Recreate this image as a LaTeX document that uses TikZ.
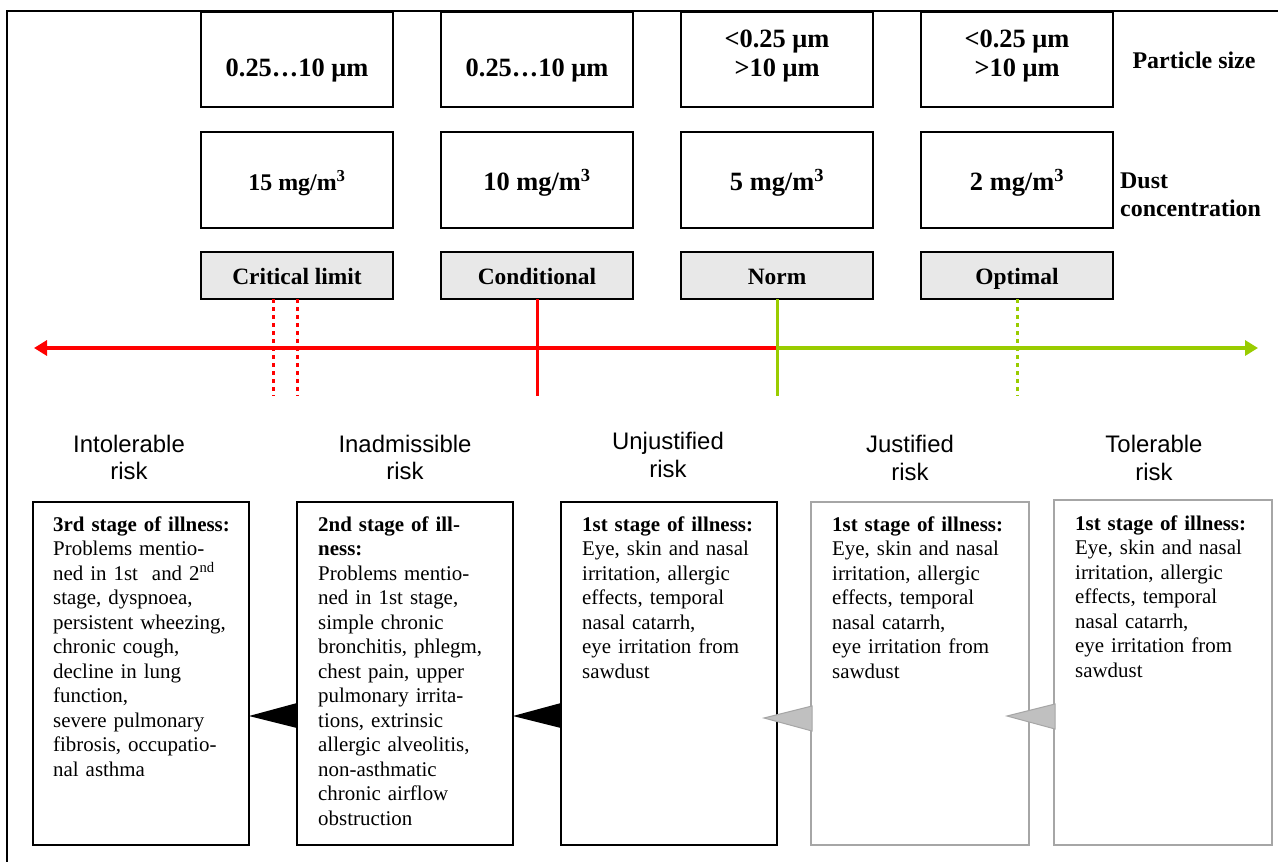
\documentclass[tikz,border=0pt]{standalone}
\usepackage{fontspec}
\setmainfont{Liberation Serif}
\newfontfamily\arialfont{Liberation Sans}
\usetikzlibrary{arrows.meta,calc}
\definecolor{axisred}{HTML}{FF0000}
\definecolor{axisgreen}{HTML}{99CC00}
\definecolor{labelgray}{HTML}{E8E8E8}
\definecolor{softgray}{HTML}{A6A6A6}
\definecolor{arrowgray}{HTML}{C0C0C0}
\begin{document}
\begin{tikzpicture}[x=1bp,y=-1bp,
  topbox/.style={draw=black,line width=1.5bp,minimum width=192bp,minimum height=95bp,inner sep=0pt,outer sep=0pt},
  midbox/.style={topbox,minimum height=96bp},
  labbox/.style={draw=black,fill=labelgray,line width=1.5bp,minimum width=192bp,minimum height=47bp,inner sep=0pt,outer sep=0pt,text height=18bp,text depth=0bp,font=\fontsize{23.5}{26}\selectfont\bfseries},
  bigtext/.style={font=\fontsize{26.5}{29}\selectfont\bfseries,align=center,inner sep=0pt},
  sidetext/.style={font=\fontsize{24}{28}\selectfont\bfseries,align=left,inner sep=0pt},
  risktext/.style={font=\arialfont\fontsize{24}{27.5}\selectfont,align=center,inner sep=0pt},
  stagebox/.style={draw=black,line width=2bp,minimum width=216bp,minimum height=343bp,inner sep=0pt,outer sep=0pt},
  softbox/.style={stagebox,draw=softgray,minimum width=218bp},
  stagetext/.style={font=\fontsize{21}{24.6}\selectfont,text width=210bp,align=left,inner sep=0pt,anchor=base west},
  redaxis/.style={draw=axisred,line width=3.5bp},
  greenaxis/.style={draw=axisgreen,line width=3.5bp},
  reddots/.style={draw=axisred,line width=3bp,dash pattern=on 4bp off 4bp},
  greendots/.style={draw=axisgreen,line width=3bp,dash pattern=on 4bp off 4bp},
  blacktri/.style={fill=black},
  graytri/.style={fill=arrowgray,draw=softgray,line width=1bp},
  axistip/.style={-{Triangle[length=13bp,width=15bp]}}
]
\useasboundingbox (0,0) rectangle (1278,862);
\fill[white] (0,0) rectangle (1278,862);
% outer frame
\draw[line width=2bp] (7,870) -- (7,11) -- (1285,11);

% particle size row
\node[topbox] (p1) at (297,59.5) {};
\node[topbox] (p2) at (537,59.5) {};
\node[topbox] (p3) at (777,59.5) {};
\node[topbox] (p4) at (1017,59.5) {};
\node[bigtext] (p1t) at (297,71) {0.25…10 μm};
\node[bigtext] (p2t) at (537,71) {0.25…10 μm};
\node[bigtext] (p3t) at (777,56) {<0.25 μm\\>10 μm};
\node[bigtext] (p4t) at (1017,56) {<0.25 μm\\>10 μm};
\node[sidetext] (psize) at (1194,60) {Particle size};

% concentration row
\node[midbox] (c1) at (297,180) {};
\node[midbox] (c2) at (537,180) {};
\node[midbox] (c3) at (777,180) {};
\node[midbox] (c4) at (1017,180) {};
\node[bigtext,font=\fontsize{24}{28}\selectfont\bfseries] (c1t) at (297,183) {15 mg/m\textsuperscript{3}};
\node[bigtext] (c2t) at (537,183) {10 mg/m\textsuperscript{3}};
\node[bigtext] (c3t) at (777,183) {5 mg/m\textsuperscript{3}};
\node[bigtext] (c4t) at (1017,183) {2 mg/m\textsuperscript{3}};
\node[sidetext,anchor=west] (dconc) at (1120,195) {Dust\\concentration};

% limit labels
\node[labbox] (l1) at (297,275.5) {Critical limit};
\node[labbox] (l2) at (537,275.5) {Conditional};
\node[labbox] (l3) at (777,275.5) {Norm};
\node[labbox] (l4) at (1017,275.5) {Optimal};

% axis
\coordinate (axL) at (34,348);
\coordinate (axM) at (777,348);
\coordinate (axR) at (1258,348);
\draw[redaxis,axistip] (axM) -- (axL);
\draw[greenaxis,axistip] (axM) -- (axR);

% vertical markers
\coordinate (v1a) at (273,396);
\coordinate (v1b) at (297,396);
\coordinate (v2) at (537,396);
\coordinate (v3) at (777,396);
\coordinate (v4) at (1017,396);
\draw[reddots] ($(l1.south)+(-24,0)$) -- (v1a);
\draw[reddots] (l1.south) -- (v1b);
\draw[redaxis,line width=3bp] (l2.south) -- (v2);
\draw[greenaxis,line width=3bp] (l3.south) -- (v3);
\draw[greendots] (l4.south) -- (v4);

% risk labels
\node[risktext] (r1) at (129,457.5) {Intolerable\\risk};
\node[risktext] (r2) at (405,457.5) {Inadmissible\\risk};
\node[risktext] (r3) at (668,455) {Unjustified\\risk};
\node[risktext] (r4) at (910,458) {Justified\\risk};
\node[risktext] (r5) at (1154,458) {Tolerable\\risk};

% stage boxes
\node[stagebox] (sA) at (141,673.5) {};
\node[stagebox] (sB) at (405,673.5) {};
\node[stagebox] (sC) at (669,673.5) {};
\node[softbox] (sD) at (920,673.5) {};
\node[softbox,minimum height=345bp] (sE) at (1163,672.5) {};

% triangles between stage boxes
\fill[blacktri] (sB.west |- 0,703) -- (sB.west |- 0,728) -- (sA.east |- 0,716) -- cycle;
\fill[blacktri] (sC.west |- 0,703) -- (sC.west |- 0,728) -- (sB.east |- 0,716) -- cycle;
\filldraw[graytri] (812,706) -- (812,731) -- (764,718) -- cycle;
\filldraw[graytri] (1055,704) -- (1055,729) -- (1007,716) -- cycle;

\node[stagetext] (tA) at (53,531) {\textbf{3rd stage of illness:}\\
Problems mentio-\\
ned in 1st~ and 2\textsuperscript{nd}\\
stage, dyspnoea,\\
persistent wheezing,\\
chronic cough,\\
decline in lung\\
function,\\
severe pulmonary\\
fibrosis, occupatio-\\
nal asthma};
\node[stagetext] (tB) at (318,531) {\textbf{2nd stage of ill-}\\
\textbf{ness:}\\
Problems mentio-\\
ned in 1st stage,\\
simple chronic\\
bronchitis, phlegm,\\
chest pain, upper\\
pulmonary irrita-\\
tions, extrinsic\\
allergic alveolitis,\\
non-asthmatic\\
chronic airflow\\
obstruction};
\node[stagetext] (tC) at (582,531) {\textbf{1st stage of illness:}\\
Eye, skin and nasal\\
irritation, allergic\\
effects, temporal\\
nasal catarrh,\\
eye irritation from\\
sawdust};
\node[stagetext] (tD) at (832,531) {\textbf{1st stage of illness:}\\
Eye, skin and nasal\\
irritation, allergic\\
effects, temporal\\
nasal catarrh,\\
eye irritation from\\
sawdust};
\node[stagetext] (tE) at (1075,530) {\textbf{1st stage of illness:}\\
Eye, skin and nasal\\
irritation, allergic\\
effects, temporal\\
nasal catarrh,\\
eye irritation from\\
sawdust};
\end{tikzpicture}
\end{document}
